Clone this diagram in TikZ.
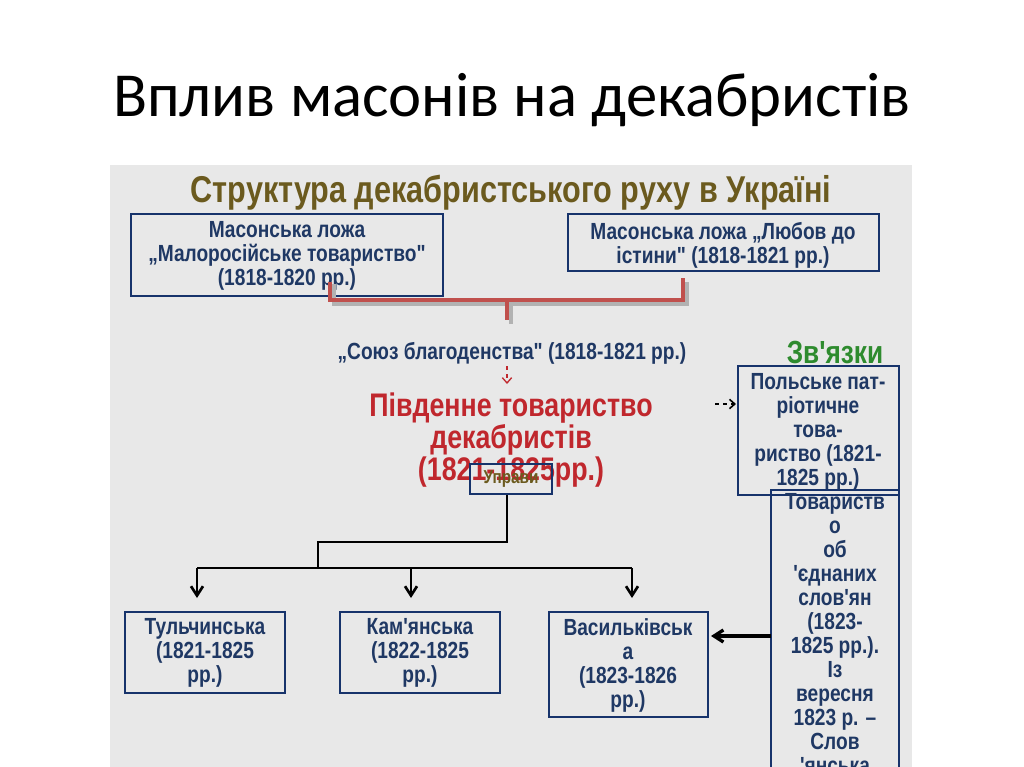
\documentclass[tikz,border=0pt]{standalone}
\usepackage{fontspec}
\setmainfont{Carlito}
\newfontfamily\nar[FakeStretch=0.82]{Liberation Sans}
\usetikzlibrary{arrows.meta}
\definecolor{navy}{HTML}{1F3864}
\definecolor{boxb}{HTML}{17336B}
\definecolor{olive}{HTML}{6B5A1E}
\definecolor{redt}{HTML}{C0272D}
\definecolor{brk}{HTML}{C0504D}
\definecolor{grn}{HTML}{2E8B2E}
\begin{document}
\begin{tikzpicture}[x=0.75pt,y=-0.75pt,
  bx/.style={draw=boxb,line width=2.2pt,fill=none},
  tx/.style={font=\nar\bfseries\fontsize{17.5}{18}\selectfont,text=navy,align=center},
  conn/.style={line width=2pt,black},
  oarr/.style={-{Straight Barb[length=7pt,width=9pt]}}]
\useasboundingbox (0,0) rectangle (1024,767);
\fill[white] (0,0) rectangle (1024,767);
\fill[gray!18] (110,165) rectangle (912,767);
\node[font=\fontsize{47}{50}\selectfont] (title) at (512,100) {Вплив масонів на декабристів};
\node[font=\nar\bfseries\fontsize{28}{30}\selectfont,text=olive] (sub) at (511,193) {Структура декабристського руху в Україні};
% top boxes
\draw[bx] (131,214) rectangle (443,296);
\node[tx] (m1) at (287,256) {Масонська ложа\\„Малоросійське товариство"\\(1818-1820 рр.)};
\draw[bx] (568,214) rectangle (879,271);
\node[tx] (m2) at (723,245) {Масонська ложа „Любов до\\істини" (1818-1821 рр.)};
% red bracket
\draw[gray!60,line width=2.5pt] (334,284) -- (334,304) -- (687,304) -- (687,282) (511,304) -- (511,324);
\draw[brk,line width=2.5pt] (330,282) -- (330,300) -- (683,300) -- (683,278) (507,300) -- (507,320);
\node[tx] (soyuz) at (512,353) {„Союз благоденства" (1818-1821 рр.)};
\draw[redt,dashed,line width=1pt,-{Straight Barb[length=4pt,width=7pt]}] (507,366) -- (507,384);
\node[font=\nar\bfseries\fontsize{24.5}{24}\selectfont,text=redt,align=center] (south) at (511,440) {Південне товариство\\декабристів\\(1821-1825рр.)};
\node[draw=boxb,line width=1.6pt,minimum width=62pt,minimum height=23pt,inner sep=0pt,font=\nar\bfseries\fontsize{14}{15}\selectfont,text=olive,fill=none] (upr) at (511,479) {Управи};
% tree
\coordinate (j2) at (318,542);
\coordinate (j3) at (318,568);
\draw[conn] (upr.south -| 507,0) |- (j2) -- (j3);
\draw[conn] (197,568) -- (632,568);
\draw[bx] (125,612) rectangle (285,693);
\node[tx] (t) at (205,653) {Тульчинська\\(1821-1825\\рр.)};
\draw[bx] (340,612) rectangle (500,693);
\node[tx] (k) at (420,653) {Кам'янська\\(1822-1825\\рр.)};
\draw[bx] (549,612) rectangle (708,717);
\node[tx] (v) at (628,665) {Васильківськ\\а\\(1823-1826\\рр.)};
\draw[conn,oarr] (197,568) -- (197,598);
\draw[conn,oarr] (411,568) -- (411,598);
\draw[conn,oarr] (632,568) -- (632,598);
% links
\node[font=\nar\bfseries\fontsize{24}{26}\selectfont,text=grn] (zv) at (835,352) {Зв'язки};
\draw[bx] (738,366) rectangle (899,495);
\node[tx] (pol) at (818,432) {Польське пат-\\ріотичне\\това-\\риство (1821-\\1825 рр.)};
\draw[black,dashed,line width=1.2pt,-{Straight Barb[length=4pt,width=7pt]}] (715,404) -- (736,404);
\begin{scope}
\clip (700,480) rectangle (912,767);
\draw[bx] (771,490) rectangle (899,800);
\node[tx,anchor=north] (sl) at (835,489) {Товариств\\о\\об\\'єднаних\\слов'ян\\(1823-\\1825 рр.).\\Із\\вересня\\1823 р. –\\Слов\\'янська};
\end{scope}
\draw[conn,line width=2.5pt,oarr] (771,636) -- (711,636);
\end{tikzpicture}
\end{document}
